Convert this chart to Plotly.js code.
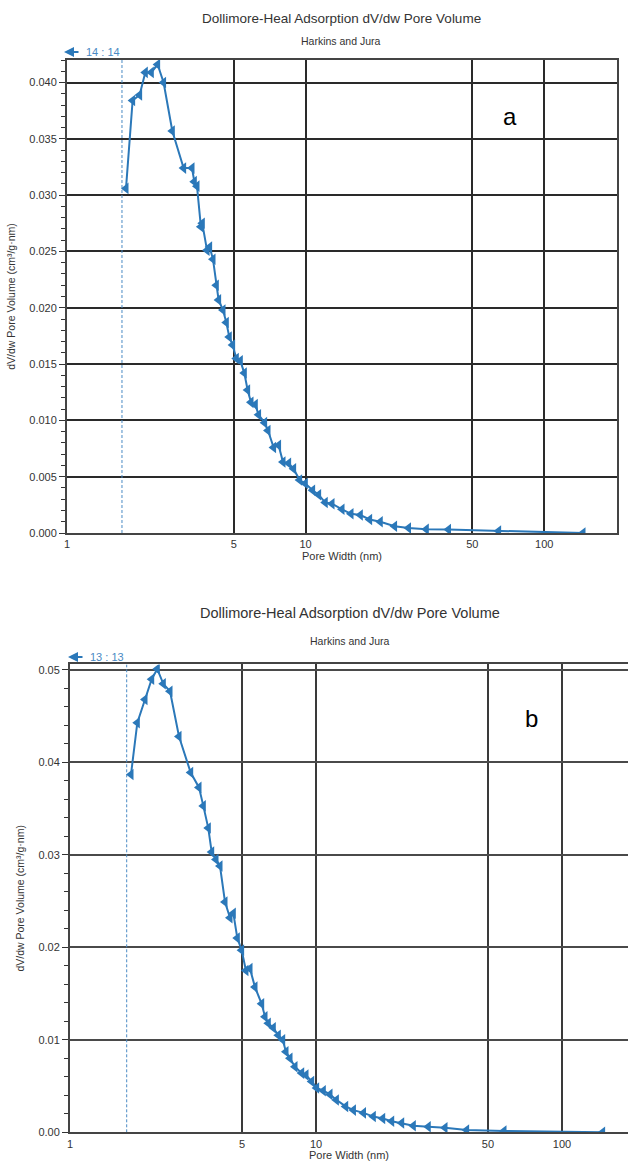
<!DOCTYPE html>
<html>
<head>
<meta charset="utf-8">
<script src="https://cdn.plot.ly/plotly-3.0.1.min.js"></script>
<style>html,body{margin:0;padding:0;background:#fff;}#chart{width:628px;height:1167px;}</style>
</head>
<body>
<div id="chart"></div>
<script>
// ---- Data ----
const titleText = "Dollimore-Heal Adsorption dV/dw Pore Volume";
const subtitleText = "Harkins and Jura";
const legendA = "14 : 14";
const legendB = "13 : 13";
const xTickVals = [1, 5, 10, 50, 100];
const xTickText = ["1", "5", "10", "50", "100"];
const cutoffWidth = 1.7;

const widthA = [1.767,1.884,2.015,2.129,2.256,2.398,2.540,2.763,3.081,3.341,
  3.417,3.506,3.64,3.69,3.863,3.961,4.092,4.224,4.319,4.506,
  4.653,4.788,4.944,5.124,5.325,5.536,5.715,5.904,6.154,6.353,
  6.733,6.958,7.341,7.704,8.04,8.487,8.907,9.438,9.97,10.7,
  11.34,12.09,12.9,14.21,15.5,16.96,18.55,20.56,23.6,27.0,
  32.05,39.7,64.4,145.4];
const volA = [0.0306,0.0384,0.0389,0.0409,0.0409,0.0416,0.0400,0.0357,0.0324,0.0324,
  0.0312,0.0308,0.0272,0.0275,0.0251,0.0254,0.0243,0.0220,0.0207,0.0198,
  0.0187,0.0174,0.0167,0.0155,0.0153,0.0142,0.0127,0.0116,0.0114,0.0105,
  0.0098,0.0091,0.0076,0.0078,0.0063,0.0062,0.0057,0.0047,0.0044,0.0038,
  0.0034,0.0027,0.0026,0.0021,0.0017,0.0016,0.0012,0.0010,0.0006,0.00044,
  0.00033,0.0003,0.00018,0.0];

const widthB = [1.77,1.878,2.018,2.148,2.264,2.395,2.55,2.774,3.094,3.344,
  3.483,3.649,3.767,3.923,4.072,4.267,4.471,4.612,4.788,4.986,
  5.19,5.39,5.649,6.013,6.204,6.401,6.707,7.029,7.32,7.551,
  7.839,8.215,8.744,9.104,9.603,10.06,10.71,11.4,12.1,13.2,
  14.2,15.6,17.1,18.67,20.31,22.3,24.87,28.6,33.45,40.96,
  58.1,146.3];
const volB = [0.0387,0.0443,0.0468,0.0490,0.0501,0.0485,0.0477,0.0428,0.0389,0.0373,
  0.0353,0.0329,0.0303,0.0295,0.0288,0.0249,0.0232,0.0237,0.0210,0.0197,
  0.0175,0.0177,0.0157,0.0139,0.0125,0.0118,0.0113,0.0105,0.0100,0.0087,
  0.0080,0.0071,0.0064,0.0062,0.0055,0.0048,0.0045,0.0041,0.0035,0.0028,
  0.0024,0.0021,0.0017,0.0015,0.0012,0.0010,0.0007,0.0006,0.0005,0.00025,
  0.00014,0.0];

// ---- Layout helpers ----
const W = 628, H = 1167;
const px = v => v / W;
const py = v => 1 - v / H;
const blue = '#2b78b9';
const font = 'Liberation Sans, Arial, sans-serif';

const yMaxA = 0.042, yMaxB = 0.0506;

const traces = [
  {x: [cutoffWidth, cutoffWidth], y: [0, yMaxA], xaxis: 'x', yaxis: 'y', mode: 'lines',
   line: {color: '#4a8ac4', width: 1, dash: '3px,2px'}, showlegend: false, hoverinfo: 'skip'},
  {x: widthA, y: volA, xaxis: 'x', yaxis: 'y', type: 'scatter', mode: 'lines+markers',
   line: {color: blue, width: 2}, marker: {symbol: 'triangle-left', size: 10, color: blue},
   showlegend: false},
  {x: [cutoffWidth, cutoffWidth], y: [0, yMaxB], xaxis: 'x2', yaxis: 'y2', mode: 'lines',
   line: {color: '#4a8ac4', width: 1, dash: '3px,2px'}, showlegend: false, hoverinfo: 'skip'},
  {x: widthB, y: volB, xaxis: 'x2', yaxis: 'y2', type: 'scatter', mode: 'lines+markers',
   line: {color: blue, width: 2}, marker: {symbol: 'triangle-left', size: 10, color: blue},
   showlegend: false}
];

function xAxis(domain, range, anchor, gridcolor) {
  return {
    type: 'log', domain: domain, range: range, anchor: anchor,
    tickvals: xTickVals, ticktext: xTickText, ticks: '',
    showgrid: true, gridcolor: gridcolor, gridwidth: 2,
    showline: true, linecolor: '#444', linewidth: 2, mirror: true,
    zeroline: false, tickfont: {family: font, size: 11, color: '#333'},
    title: {text: 'Pore Width (nm)', font: {family: font, size: 11, color: '#333'}, standoff: 3},
    automargin: false
  };
}
function yAxis(domain, range, anchor, dtick, minor, fmt, gridcolor, mirror) {
  return {
    domain: domain, range: range, anchor: anchor, dtick: dtick, tickformat: fmt,
    ticks: 'outside', ticklen: 6, tickcolor: '#333', tickwidth: 1,
    minor: {dtick: minor, ticks: 'outside', ticklen: 4, tickcolor: '#333', tickwidth: 1, showgrid: false},
    showgrid: true, gridcolor: gridcolor, gridwidth: 2,
    showline: true, linecolor: '#444', linewidth: 2, mirror: mirror,
    zeroline: false, tickfont: {family: font, size: 11, color: '#333'},
    title: {text: 'dV/dw Pore Volume (cm³/g·nm)', font: {family: font, size: 10.5, color: '#333'}, standoff: 12},
    automargin: false
  };
}

const xrA = [0, Math.log10(201.9)];
const xrB = [0, (628 - 70) / 246];

const layout = {
  width: W, height: H,
  margin: {l: 0, r: 0, t: 0, b: 0},
  paper_bgcolor: '#fff', plot_bgcolor: '#fff',
  showlegend: false,
  font: {family: font},
  xaxis: xAxis([px(67), px(617)], xrA, 'y', '#2a2a2a'),
  yaxis: yAxis([py(533), py(60)], [0, yMaxA], 'x', 0.005, 0.001, '.3f', '#2a2a2a', true),
  xaxis2: xAxis([px(70), 1], xrB, 'y2', '#3a3a3a'),
  yaxis2: yAxis([py(1132.3), py(664.4)], [0, yMaxB], 'x2', 0.01, 0.002, '.2f', '#4a4a4a', false),
  annotations: [
    {xref: 'paper', yref: 'paper', x: px(341), y: py(18), text: titleText, showarrow: false,
     font: {family: font, size: 13.5, color: '#333'}, xanchor: 'center', yanchor: 'middle'},
    {xref: 'paper', yref: 'paper', x: px(341), y: py(41), text: subtitleText, showarrow: false,
     font: {family: font, size: 10.5, color: '#333'}, xanchor: 'center', yanchor: 'middle'},
    {xref: 'paper', yref: 'paper', x: px(64), y: py(52), ax: 16, ay: 0, text: '', showarrow: true,
     arrowhead: 2, arrowsize: 1, arrowwidth: 2, arrowcolor: blue},
    {xref: 'paper', yref: 'paper', x: px(84), y: py(52), text: legendA, showarrow: false,
     font: {family: font, size: 11, color: '#4a8ac4'}, xanchor: 'left', yanchor: 'middle'},
    {xref: 'paper', yref: 'paper', x: px(510), y: py(117), text: 'a', showarrow: false,
     font: {family: font, size: 24, color: '#000'}, xanchor: 'center', yanchor: 'middle'},

    {xref: 'paper', yref: 'paper', x: px(350), y: py(613), text: titleText, showarrow: false,
     font: {family: font, size: 14.5, color: '#333'}, xanchor: 'center', yanchor: 'middle'},
    {xref: 'paper', yref: 'paper', x: px(350), y: py(641), text: subtitleText, showarrow: false,
     font: {family: font, size: 10.5, color: '#333'}, xanchor: 'center', yanchor: 'middle'},
    {xref: 'paper', yref: 'paper', x: px(68), y: py(657), ax: 16, ay: 0, text: '', showarrow: true,
     arrowhead: 2, arrowsize: 1, arrowwidth: 2, arrowcolor: blue},
    {xref: 'paper', yref: 'paper', x: px(88), y: py(657), text: legendB, showarrow: false,
     font: {family: font, size: 11, color: '#4a8ac4'}, xanchor: 'left', yanchor: 'middle'},
    {xref: 'paper', yref: 'paper', x: px(531), y: py(719), text: 'b', showarrow: false,
     font: {family: font, size: 24, color: '#000'}, xanchor: 'center', yanchor: 'middle'}
  ]
};

Plotly.newPlot('chart', traces, layout, {displayModeBar: false, staticPlot: true});
</script>
</body>
</html>
